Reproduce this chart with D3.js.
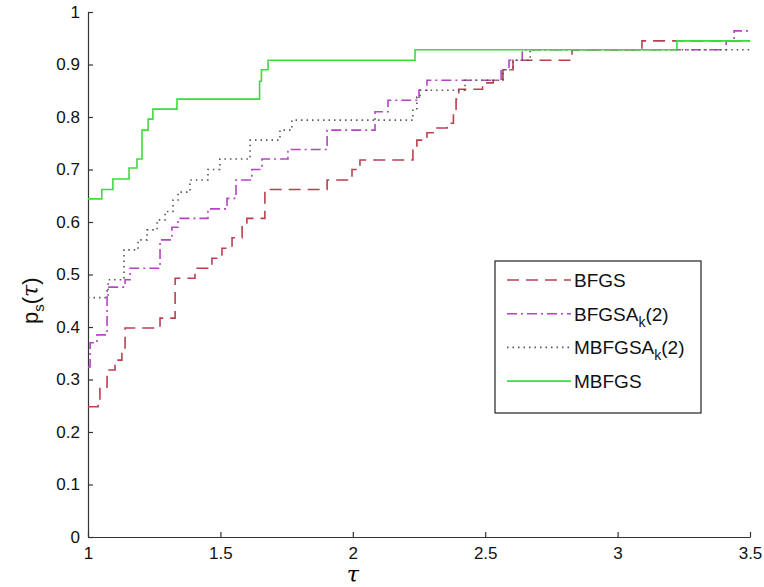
<!DOCTYPE html>
<style>
body { margin: 0; background: #fff; }
svg { display: block; }
</style>
<svg width="764" height="587"></svg>
<script src="https://d3js.org/d3.v7.min.js"></script>
<script>

// performance profile steps: [tau, p_s(tau)]
var bfgs = [
  [1.0, 0.248], [1.038, 0.261], [1.045, 0.286], [1.072, 0.318], [1.102, 0.337],
  [1.128, 0.356], [1.14, 0.398], [1.272, 0.417], [1.329, 0.493], [1.404, 0.512],
  [1.468, 0.531], [1.506, 0.55], [1.544, 0.57], [1.582, 0.598], [1.6, 0.607],
  [1.668, 0.662], [1.903, 0.68], [1.997, 0.70], [2.027, 0.718], [2.227, 0.737],
  [2.242, 0.756], [2.28, 0.77], [2.318, 0.779], [2.356, 0.788], [2.38, 0.815],
  [2.39, 0.834], [2.40, 0.853], [2.49, 0.865], [2.53, 0.87], [2.567, 0.89],
  [2.605, 0.908], [2.828, 0.928], [3.092, 0.945], [3.5, 0.945]
];
var bfgsak = [
  [1.0, 0.324], [1.008, 0.37], [1.034, 0.385], [1.072, 0.476], [1.14, 0.49],
  [1.159, 0.512], [1.272, 0.566], [1.317, 0.59], [1.34, 0.607], [1.453, 0.625],
  [1.525, 0.645], [1.559, 0.68], [1.619, 0.70], [1.657, 0.72], [1.755, 0.738],
  [1.903, 0.775], [2.084, 0.81], [2.133, 0.832], [2.25, 0.851], [2.28, 0.87],
  [2.56, 0.89], [2.59, 0.908], [2.64, 0.928], [3.41, 0.945], [3.44, 0.964], [3.5, 0.964]
];
var mbfgsak = [
  [1.0, 0.456], [1.076, 0.49], [1.136, 0.547], [1.189, 0.566], [1.223, 0.585],
  [1.261, 0.604], [1.291, 0.62], [1.321, 0.642], [1.34, 0.657], [1.385, 0.68],
  [1.453, 0.70], [1.498, 0.72], [1.612, 0.756], [1.725, 0.775], [1.77, 0.794],
  [2.227, 0.813], [2.242, 0.838], [2.254, 0.851], [2.424, 0.87], [2.567, 0.89],
  [2.605, 0.908], [2.67, 0.928], [3.5, 0.928]
];
var mbfgs = [
  [1.0, 0.644], [1.052, 0.662], [1.094, 0.682], [1.155, 0.703], [1.185, 0.72],
  [1.204, 0.775], [1.227, 0.796], [1.245, 0.815], [1.336, 0.834], [1.648, 0.868],
  [1.655, 0.89], [1.68, 0.908], [2.235, 0.928], [3.224, 0.945], [3.5, 0.945]
];

var xTicks = [1, 1.5, 2, 2.5, 3, 3.5];
var yTicks = [0, 0.1, 0.2, 0.3, 0.4, 0.5, 0.6, 0.7, 0.8, 0.9, 1];

var series = [
  { name: "BFGS", sub: "", tail: "", data: bfgs, color: "#b8404f", dash: "12,7" },
  { name: "BFGSA", sub: "k", tail: "(2)", data: bfgsak, color: "#b444c4", dash: "10,4,2,4" },
  { name: "MBFGSA", sub: "k", tail: "(2)", data: mbfgsak, color: "#555", dash: "1.5,4" },
  { name: "MBFGS", sub: "", tail: "", data: mbfgs, color: "#3ddc3d", dash: null }
];

var svg = d3.select("svg"),
    margin = { top: 12, right: 14, bottom: 50, left: 88 },
    width = +svg.attr("width") - margin.left - margin.right,
    height = +svg.attr("height") - margin.top - margin.bottom;

var g = svg.append("g")
    .attr("transform", "translate(" + margin.left + "," + margin.top + ")");

var x = d3.scaleLinear().domain([1, 3.5]).range([0, width]);
var y = d3.scaleLinear().domain([0, 1]).range([height, 0]);

var font = "'Liberation Sans', Arial, sans-serif";

var xAxis = g.append("g")
    .attr("transform", "translate(0," + height + ")")
    .call(d3.axisBottom(x).tickValues(xTicks).tickFormat(d3.format("")).tickSize(-5).tickSizeOuter(0).tickPadding(10));

var yAxis = g.append("g")
    .call(d3.axisLeft(y).tickValues(yTicks).tickFormat(d3.format("")).tickSize(-5).tickSizeOuter(0).tickPadding(8));

[xAxis, yAxis].forEach(function(a) {
  a.selectAll("path, line").attr("stroke", "#333").attr("stroke-width", 1.2);
  a.selectAll("text").attr("fill", "#111").style("font-family", font).style("font-size", "17px");
});

var line = d3.line()
    .x(function(d) { return x(d[0]); })
    .y(function(d) { return y(d[1]); })
    .curve(d3.curveStepAfter);

series.forEach(function(s) {
  g.append("path")
    .datum(s.data)
    .attr("d", line)
    .attr("fill", "none")
    .attr("stroke", s.color)
    .attr("stroke-width", 1.6)
    .attr("stroke-dasharray", s.dash);
});

// axis labels
svg.append("text")
    .attr("x", margin.left + x(2.0))
    .attr("y", 582)
    .attr("text-anchor", "middle")
    .style("font-family", "'DejaVu Serif', serif")
    .style("font-style", "italic")
    .style("font-size", "22px")
    .text("τ");

var yl = svg.append("text")
    .attr("transform", "translate(38," + (margin.top + y(0.45)) + ") rotate(-90)")
    .attr("text-anchor", "middle")
    .style("font-family", font)
    .style("font-size", "22px")
    .attr("fill", "#111");
yl.append("tspan").text("p");
yl.append("tspan").attr("dy", 6).style("font-size", "15px").text("s");
yl.append("tspan").attr("dy", -6).text("(");
yl.append("tspan").style("font-family", "'DejaVu Serif', serif").style("font-style", "italic").text("τ");
yl.append("tspan").text(")");

// legend
var legend = svg.append("g").attr("transform", "translate(495,261)");
legend.append("rect")
    .attr("width", 206).attr("height", 152)
    .attr("fill", "#fff").attr("stroke", "#222").attr("stroke-width", 1.2);

series.forEach(function(s, i) {
  var ly = 19 + i * 33.7;
  legend.append("line")
    .attr("x1", 12).attr("x2", 76).attr("y1", ly).attr("y2", ly)
    .attr("stroke", s.color).attr("stroke-width", 1.6)
    .attr("stroke-dasharray", s.dash);
  var t = legend.append("text")
    .attr("x", 79).attr("y", ly + 7)
    .style("font-family", font).style("font-size", "19px").attr("fill", "#111");
  t.append("tspan").text(s.name);
  if (s.sub) {
    t.append("tspan").attr("dy", 6).style("font-size", "14px").text(s.sub);
    t.append("tspan").attr("dy", -6).text(s.tail);
  }
});

</script>
